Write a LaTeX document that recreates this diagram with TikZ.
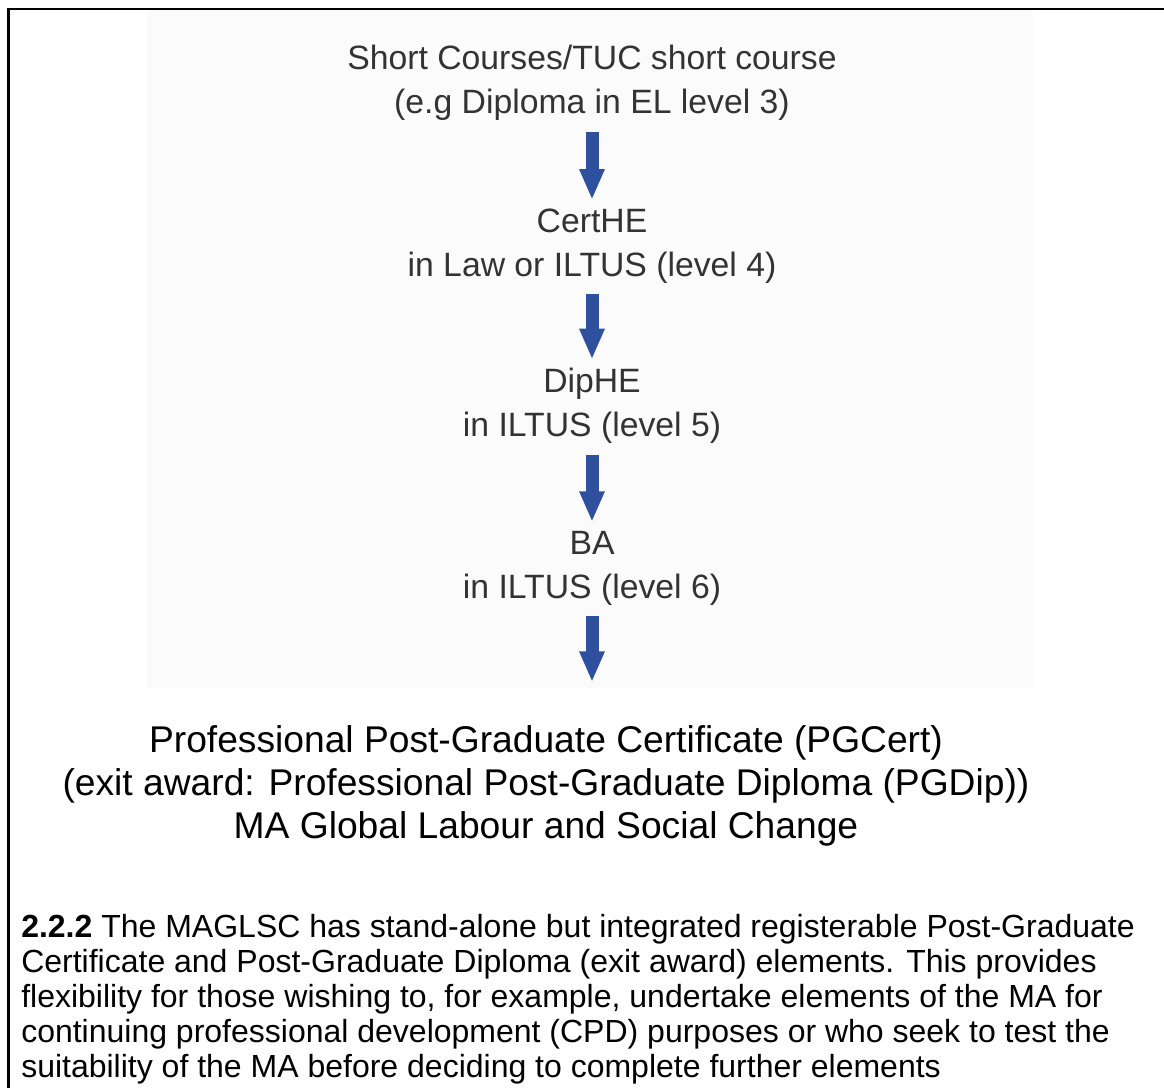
\documentclass[tikz,border=0pt]{standalone}
\usepackage{fontspec}
\setmainfont{Liberation Sans}
\usetikzlibrary{arrows.meta}

\definecolor{arrowblue}{RGB}{46,80,158}
\definecolor{stepgray}{RGB}{51,51,51}
\definecolor{panelgray}{RGB}{251,251,251}

\begin{document}
\begin{tikzpicture}[x=0.75pt, y=-0.75pt,
    stage/.style={align=center, inner sep=0pt, text=stepgray,
        font=\fontsize{25.3}{33}\selectfont},
    flow/.style={draw=arrowblue, line width=9.75pt,
        -{Triangle[width=17.5pt, length=23pt]},
        shorten <=8pt, shorten >=6.5pt}]

\useasboundingbox (0,0) rectangle (1164,1088);

% frame, open to the right and below
\draw[line width=2pt] (8.5,1088) -- (8.5,9) -- (1164,9);

% light panel behind the steps
\fill[panelgray] (147,10) rectangle (1033,688);

% Steps
\node [stage] (short) at (592,83)
    {Short Courses/TUC short course\\(e.g Diploma in EL level 3)};
\node [stage] (certhe) at (592,246)
    {CertHE\\in Law or ILTUS (level 4)};
\node [stage] (diphe) at (592,406)
    {DipHE\\in ILTUS (level 5)};
\node [stage] (ba) at (592,568)
    {BA\\in ILTUS (level 6)};

% Postgraduate awards
\node [align=center, inner sep=0pt,
    font=\fontsize{27.9}{32.25}\selectfont] (pg) at (546,786)
    {Professional Post-Graduate Certificate (PGCert)\\
     (exit award: Professional Post-Graduate Diploma (PGDip))\\
     MA Global Labour and Social Change};

% Arrows
\draw [flow] (short) -- (certhe);
\draw [flow] (certhe) -- (diphe);
\draw [flow] (diphe) -- (ba);
\draw [flow, shorten >=32.5pt] (ba) -- (ba |- pg.north);

% Paragraph below
\node [align=left, inner sep=0pt, anchor=north west,
    font=\fontsize{24}{26.25}\selectfont] (para) at (21,914)
    {\textbf{2.2.2} The MAGLSC has stand-alone but integrated registerable Post-Graduate\\
     Certificate and Post-Graduate Diploma (exit award) elements. This provides\\
     flexibility for those wishing to, for example, undertake elements of the MA for\\
     continuing professional development (CPD) purposes or who seek to test the\\
     suitability of the MA before deciding to complete further elements};

\end{tikzpicture}
\end{document}
